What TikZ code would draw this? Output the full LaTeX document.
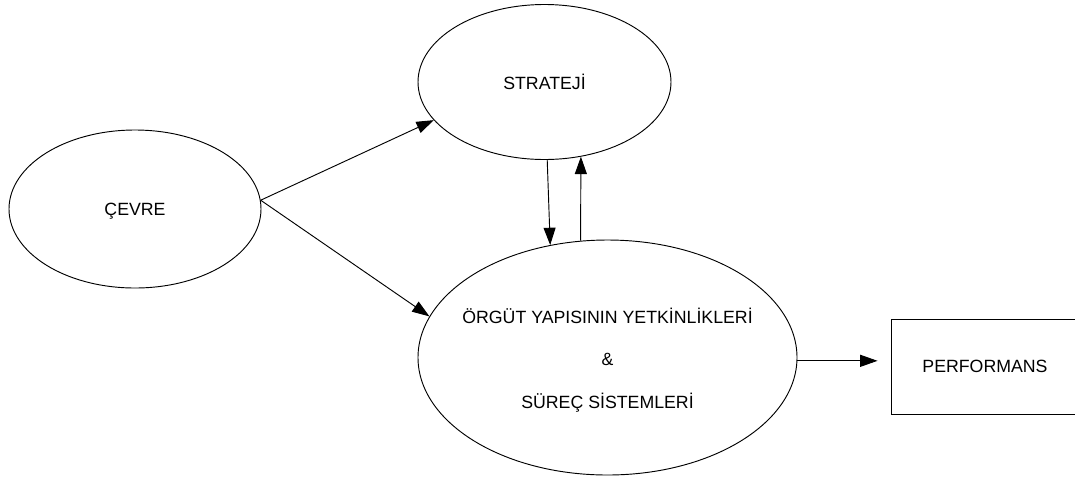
\documentclass[tikz,border=0pt]{standalone}
\usepackage{fontspec}
\setmainfont{Liberation Sans}
\usetikzlibrary{shapes.geometric,arrows.meta}
\begin{document}
\begin{tikzpicture}[x=0.75pt,y=-0.75pt,
  bubble/.style={ellipse,draw,line width=0.7pt,inner sep=0pt},
  boxed/.style={rectangle,draw,line width=0.7pt,inner sep=0pt},
  lbl/.style={anchor=base,inner sep=0pt,font=\fontsize{13.3}{16}\selectfont},
  link/.style={line width=0.7pt,-{Triangle[length=13pt,width=9pt]}}]
\useasboundingbox (0,0) rectangle (1075,480);
\clip (0,0) rectangle (1075,480);

% shapes
\node[bubble,minimum width=189pt,minimum height=118.5pt] (cevre) at (135,209) {};
\node[bubble,minimum width=189.75pt,minimum height=116.25pt] (strat) at (544.5,82) {};
\node[bubble,minimum width=284.25pt,minimum height=176.25pt] (big) at (607.5,357.5) {};
\node[boxed,minimum width=141pt,minimum height=71.25pt] (perf) at (985,366.5) {};

% texts
\node[lbl] (tcevre) at (135,215.7) {ÇEVRE};
\node[lbl] (tstrat) at (544.5,89) {STRATEJİ};
\node[lbl] (tbig1) at (607.5,323.3) {ÖRGÜT YAPISININ YETKİNLİKLERİ};
\node[lbl] (tbig2) at (607.5,365) {\&};
\node[lbl] (tbig3) at (607.5,408.3) {SÜREÇ SİSTEMLERİ};
\node[lbl] (tperf) at (985,372.7) {PERFORMANS};

% connectors
\draw[link] (cevre.4) -- (strat.199);
\draw[link] (cevre.4) -- (big.167);
\draw[link] (strat.272) -- (big.117);
\draw[link] (big.103) -- (strat.296);
\draw[link,shorten >=9.75pt] (big.-1.4) -- (big.-1.4 -| perf.west);
\end{tikzpicture}
\end{document}
